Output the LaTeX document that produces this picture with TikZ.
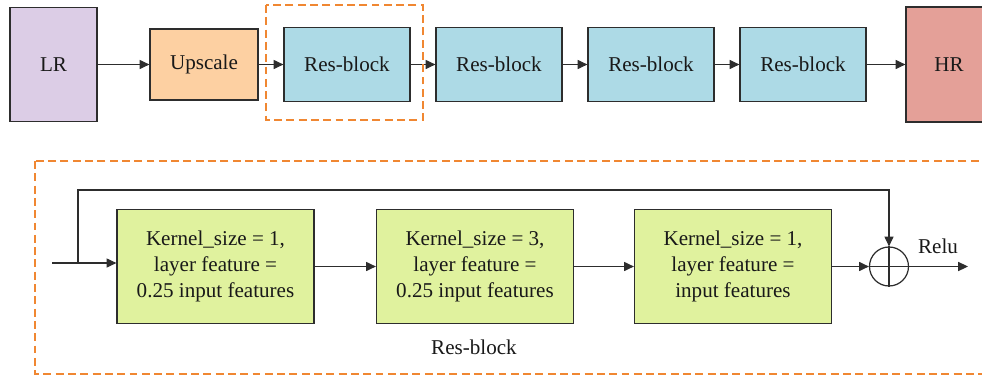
\documentclass[tikz,border=0pt]{standalone}
\usepackage{fontspec}
\setmainfont{Liberation Serif}
\usetikzlibrary{arrows.meta}

\definecolor{lrcol}{RGB}{220,205,230}
\definecolor{upcol}{RGB}{253,208,162}
\definecolor{rescol}{RGB}{173,218,230}
\definecolor{hrcol}{RGB}{228,160,152}
\definecolor{kercol}{RGB}{224,242,158}
\definecolor{dashcol}{RGB}{240,135,50}
\definecolor{edgecol}{RGB}{45,45,45}

\begin{document}
\begin{tikzpicture}[x=0.2mm, y=-0.2mm, >={Triangle[length=5.6pt,width=5.2pt]},
  every node/.style={font=\fontsize{12}{14.8}\selectfont, text=black!90},
  blk/.style={draw=edgecol, line width=0.7pt, align=center, inner sep=0pt},
  resblk/.style={blk, fill=rescol, minimum width=2.52cm, minimum height=1.48cm},
  kerblk/.style={blk, fill=kercol, minimum width=3.94cm, minimum height=2.28cm},
  zoomframe/.style={draw=dashcol, line width=0.8pt, dash pattern=on 4.5pt off 2.5pt},
  conn/.style={->, draw=edgecol, line width=0.6pt}]

\useasboundingbox (0,0) rectangle (982,377);
\clip (0,0) rectangle (982,377);

% super-resolution pipeline
\node[blk, fill=lrcol, minimum width=1.74cm, minimum height=2.28cm] (lr) at (53.5,64.5) {LR};
\node[blk, fill=upcol, minimum width=2.16cm, minimum height=1.42cm] (up) at (204,64.5) {Upscale};
\node[resblk] (res1) at (347,64.5) {Res-block};
\node[resblk] (res2) at (499,64.5) {Res-block};
\node[resblk] (res3) at (651,64.5) {Res-block};
\node[resblk] (res4) at (803,64.5) {Res-block};
\node[blk, fill=hrcol, minimum width=1.72cm, minimum height=2.3cm] (hr) at (949,64.5) {HR};

\draw[conn] (lr) -- (up);
\draw[conn] (up) -- (res1);
\draw[conn] (res1) -- (res2);
\draw[conn] (res2) -- (res3);
\draw[conn] (res3) -- (res4);
\draw[conn] (res4) -- (hr);

\draw[zoomframe] (266,5) rectangle (423,120);

% inside one residual block
\draw[zoomframe] (35,161) rectangle (995,374);

\node[kerblk] (k1) at (215.5,266.5) {Kernel\_size = 1,\\layer feature =\\0.25 input features};
\node[kerblk] (k2) at (475,266.5) {Kernel\_size = 3,\\layer feature =\\0.25 input features};
\node[kerblk] (k3) at (733,266.5) {Kernel\_size = 1,\\layer feature =\\input features};
\node[draw=edgecol, line width=0.7pt, circle, minimum size=0.78cm, inner sep=0pt] (sum) at (889,266.5) {};
\draw[edgecol, line width=0.6pt] (sum.north) -- (sum.south) (sum.west) -- (sum.east);

\coordinate (in) at (52,263);
\coordinate (tap) at (78,263);
\coordinate (out) at (968,266.5);

\draw[conn] (in) -- (in -| k1.west);
\draw[conn] (k1) -- (k2);
\draw[conn] (k2) -- (k3);
\draw[conn] (k3) -- (sum);
\draw[conn] (tap) -- ++(0,-73) -| (sum.north);
\draw[conn] (sum.east) -- (out);

\node (relu) at (938,246) {Relu};
\node (cap) at (474,347) {Res-block};

\end{tikzpicture}
\end{document}
